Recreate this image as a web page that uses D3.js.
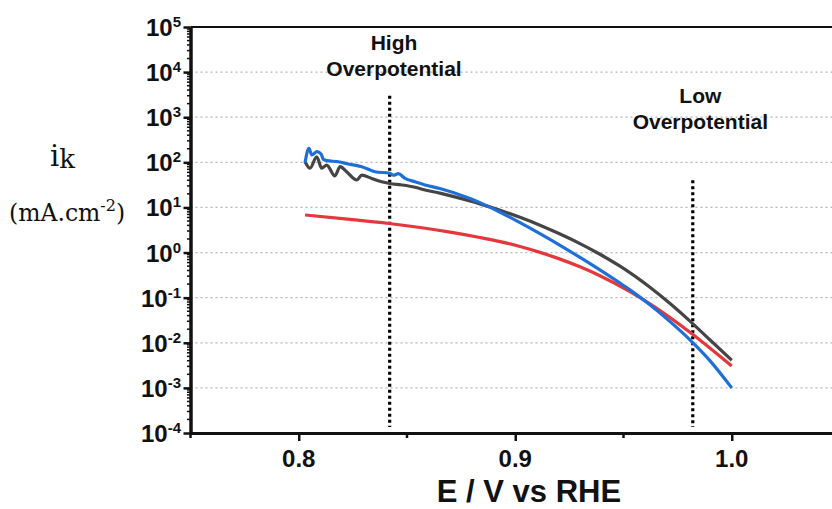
<!DOCTYPE html>
<html>
<head>
<meta charset="utf-8">
<script src="https://d3js.org/d3.v7.min.js"></script>
<style>
  body { margin: 0; background: #fff; }
</style>
</head>
<body>
<svg id="chart"></svg>
<script>
  // Potential (V vs RHE) and kinetic current (mA/cm2) for the three curves
  const blackE = [0.8029, 0.8052, 0.8083, 0.8106, 0.8129, 0.8167, 0.8191, 0.8221, 0.8268, 0.8291, 0.8337, 0.8383, 0.8421, 0.8476, 0.8537, 0.8583, 0.8652, 0.8791, 0.8837, 0.8930, 0.9022, 0.9114, 0.9207, 0.9299, 0.9391, 0.9484, 0.9622, 0.9715, 0.9807, 0.9900, 1.0];
  const blackI = [103, 74, 133, 74, 87, 50, 80, 62, 40.6, 52, 44, 37, 34, 31.5, 28, 24.4, 20.8, 13.9, 12.0, 8.63, 6.03, 4.03, 2.57, 1.58, 0.918, 0.499, 0.170, 0.0741, 0.0302, 0.0115, 0.0041];

  const blueE = [0.8029, 0.8047, 0.8060, 0.8084, 0.8103, 0.8113, 0.8129, 0.8183, 0.8229, 0.8291, 0.8352, 0.8421, 0.8437, 0.8460, 0.8491, 0.8537, 0.8583, 0.8652, 0.8791, 0.8837, 0.8930, 0.9022, 0.9114, 0.9207, 0.9299, 0.9391, 0.9484, 0.9530, 0.9622, 0.9715, 0.9807, 0.9900, 1.0];
  const blueI = [98, 205, 146, 172, 153, 117, 109, 103, 92, 80, 62, 57, 52, 56, 44, 37, 31.5, 26.4, 15.8, 12.8, 7.83, 4.61, 2.63, 1.45, 0.782, 0.414, 0.211, 0.149, 0.0693, 0.0294, 0.0116, 0.00397, 0.000998];

  const redE = [0.8029, 0.8237, 0.8417, 0.8560, 0.8699, 0.8837, 0.8930, 0.9022, 0.9114, 0.9207, 0.9299, 0.9391, 0.9530, 0.9622, 0.9715, 0.9807, 0.9900, 1.0];
  const redI = [6.8, 5.46, 4.41, 3.59, 2.84, 2.16, 1.75, 1.36, 1.01, 0.715, 0.483, 0.306, 0.1355, 0.0726, 0.0362, 0.0171, 0.00757, 0.00305];

  const yTicks = [1e-4, 1e-3, 1e-2, 1e-1, 1e0, 1e1, 1e2, 1e3, 1e4, 1e5];
  const yExps = ["-4", "-3", "-2", "-1", "0", "1", "2", "3", "4", "5"];
  const xTicks = [0.8, 0.9, 1.0];
  const xTickLabels = ["0.8", "0.9", "1.0"];
  const xMinor = [0.75, 0.85, 0.95, 1.05];

  const markerE = [0.842, 0.982];
  const markerTop = [3e3, 4e1];
  const labelE = [0.844, 0.9855];
  const labelY = [50, 103];
  const markerLabels = [["High", "Overpotential"], ["Low", "Overpotential"]];

  const width = 832, height = 509;
  const mLeft = 190.5, mTop = 27, mBottom = 433;
  const sans = "'Liberation Sans', Arial, sans-serif";
  const serif = "'DejaVu Serif', 'Liberation Serif', serif";

  const svg = d3.select("#chart").attr("width", width).attr("height", height);

  const x = d3.scaleLinear().domain([0.75, 1.05]).range([mLeft, mLeft + 0.3 * 2165]);
  const y = d3.scaleLog().domain([1e-4, 1e5]).range([mBottom, mTop]);

  // grid lines
  svg.append("g")
    .selectAll("line")
    .data(yTicks.slice(1, -1))
    .enter()
    .append("line")
    .attr("x1", mLeft)
    .attr("x2", width)
    .attr("y1", d => y(d))
    .attr("y2", d => y(d))
    .attr("stroke", "#b5b5b5")
    .attr("stroke-width", 1.2)
    .attr("stroke-dasharray", "2,3");

  // top frame
  svg.append("line")
    .attr("x1", mLeft).attr("x2", width)
    .attr("y1", mTop).attr("y2", mTop)
    .attr("stroke", "#111").attr("stroke-width", 2);

  // minor log ticks on the y axis
  const minor = [];
  for (let e = -4; e < 5; e++) {
    for (let m = 2; m < 10; m++) minor.push(m * Math.pow(10, e));
  }
  svg.append("g")
    .selectAll("line")
    .data(minor)
    .enter()
    .append("line")
    .attr("x1", mLeft - 3.5)
    .attr("x2", mLeft)
    .attr("y1", d => y(d))
    .attr("y2", d => y(d))
    .attr("stroke", "#111")
    .attr("stroke-width", 1.5);

  // y axis
  const yAxis = svg.append("g")
    .attr("transform", `translate(${mLeft},0)`)
    .call(d3.axisLeft(y).tickValues(yTicks).tickFormat("").tickSize(7).tickSizeOuter(0));
  yAxis.select(".domain").attr("stroke", "#111").attr("stroke-width", 3.5);
  yAxis.selectAll(".tick line").attr("stroke", "#111").attr("stroke-width", 2.5);

  const yLab = svg.append("g")
    .selectAll("text")
    .data(yTicks)
    .enter()
    .append("text")
    .attr("x", 181)
    .attr("y", d => y(d) + 9)
    .attr("text-anchor", "end")
    .style("font-family", sans)
    .attr("font-weight", "bold")
    .attr("font-size", 24)
    .attr("fill", "#111");
  yLab.append("tspan").text("10");
  yLab.append("tspan")
    .attr("font-size", 15)
    .attr("dy", -9)
    .text((d, i) => yExps[i]);

  // x axis
  const xAxis = svg.append("g")
    .attr("transform", `translate(0,${mBottom})`)
    .call(d3.axisBottom(x).tickValues(xTicks).tickFormat("").tickSize(8).tickSizeOuter(0));
  xAxis.select(".domain").attr("stroke", "#111").attr("stroke-width", 3);
  xAxis.selectAll(".tick line").attr("stroke", "#111").attr("stroke-width", 2.5);

  svg.append("g")
    .selectAll("line")
    .data(xMinor)
    .enter()
    .append("line")
    .attr("x1", d => x(d))
    .attr("x2", d => x(d))
    .attr("y1", mBottom)
    .attr("y2", mBottom + 5)
    .attr("stroke", "#111")
    .attr("stroke-width", 2.5);

  svg.append("g")
    .selectAll("text")
    .data(xTicks)
    .enter()
    .append("text")
    .attr("x", d => x(d))
    .attr("y", 467)
    .attr("text-anchor", "middle")
    .style("font-family", sans)
    .attr("font-weight", "bold")
    .attr("font-size", 24)
    .attr("fill", "#111")
    .text((d, i) => xTickLabels[i]);

  // marker lines
  svg.append("g")
    .selectAll("line")
    .data(markerE)
    .enter()
    .append("line")
    .attr("x1", d => x(d))
    .attr("x2", d => x(d))
    .attr("y1", (d, i) => y(markerTop[i]))
    .attr("y2", mBottom - 6)
    .attr("stroke", "#000")
    .attr("stroke-width", 3.2)
    .attr("stroke-dasharray", "3,3");

  labelE.forEach((e, i) => {
    const t = svg.append("text")
      .attr("text-anchor", "middle")
      .style("font-family", sans)
      .attr("font-weight", "bold")
      .attr("font-size", 21)
      .attr("fill", "#111");
    t.append("tspan").attr("x", x(e)).attr("y", labelY[i]).text(markerLabels[i][0]);
    t.append("tspan").attr("x", x(e)).attr("y", labelY[i] + 26).text(markerLabels[i][1]);
  });

  // curves
  const line = d3.line()
    .x(d => x(d[0]))
    .y(d => y(d[1]))
    .curve(d3.curveMonotoneX);

  const series = [
    { e: redE, v: redI, color: "#e5383d" },
    { e: blackE, v: blackI, color: "#454545" },
    { e: blueE, v: blueI, color: "#1f6fd8" }
  ];

  series.forEach(s => {
    svg.append("path")
      .datum(s.e.map((e, i) => [e, s.v[i]]))
      .attr("fill", "none")
      .attr("stroke", s.color)
      .attr("stroke-width", 3.2)
      .attr("stroke-linejoin", "round")
      .attr("d", line);
  });

  // axis titles
  const ik = svg.append("text")
    .attr("x", 50)
    .attr("y", 166)
    .style("font-family", serif)
    .attr("font-size", 29)
    .attr("fill", "#111");
  ik.append("tspan").text("i");
  ik.append("tspan").attr("font-size", 26).attr("dy", 2).text("k");

  const unit = svg.append("text")
    .attr("x", 9)
    .attr("y", 221)
    .style("font-family", serif)
    .attr("font-size", 23.5)
    .attr("fill", "#111");
  unit.append("tspan").text("(mA.cm");
  unit.append("tspan").attr("font-size", 16).attr("dy", -10).text("-2");
  unit.append("tspan").attr("dy", 10).text(")");

  svg.append("text")
    .attr("x", 529)
    .attr("y", 502)
    .attr("text-anchor", "middle")
    .style("font-family", sans)
    .attr("font-weight", "bold")
    .attr("font-size", 31)
    .attr("fill", "#111")
    .text("E / V vs RHE");
</script>
</body>
</html>
